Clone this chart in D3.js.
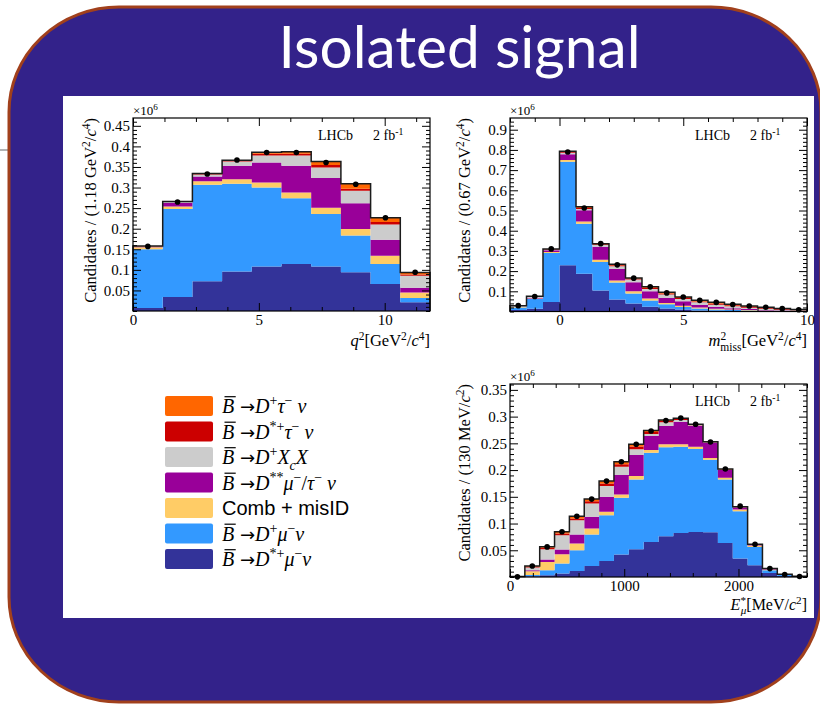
<!DOCTYPE html>
<html><head><meta charset="utf-8">
<script src="https://cdn.jsdelivr.net/npm/d3@7"></script>
<style>body{margin:0;background:#fff}svg{display:block}</style>
</head><body><svg id="c" width="820" height="705"></svg>
<script>
// ---------------- DATA ----------------
// stack order (bottom -> top)
const seriesKeys = ["dstmu","dmu","comb","dss","dxc","dsttau","dtau"];
const seriesColors = ["#333399","#3399ff","#ffcc66","#990099","#cccccc","#cc0000","#ff6600"];

// q^2 panel (units 1e6 candidates)
const q2Edges   = [0,1.18,2.36,3.54,4.72,5.9,7.08,8.26,9.44,10.62,11.8];
const q2DstMu   = [0.007,0.034,0.072,0.096,0.108,0.114,0.108,0.094,0.0655,0.021];
const q2DMu     = [0.143,0.214,0.2345,0.213,0.192,0.160,0.128,0.0895,0.0485,0.0105];
const q2Comb    = [0.005,0.006,0.0085,0.011,0.012,0.014,0.015,0.0155,0.020,0.0135];
const q2Dss     = [0.001,0.009,0.012,0.033,0.049,0.065,0.072,0.063,0.039,0.0115];
const q2DXc     = [0.001,0.002,0.005,0.010,0.017,0.025,0.026,0.030,0.037,0.0292];
const q2DstTau  = [0.0005,0.0005,0.001,0.002,0.004,0.004,0.006,0.005,0.006,0.0033];
const q2DTau    = [0.0005,0.0005,0.001,0.0015,0.004,0.005,0.008,0.012,0.0105,0.0047];
const q2Data    = [0.157,0.265,0.333,0.367,0.385,0.385,0.361,0.308,0.2265,0.094];
const q2YTicks  = [0.05,0.1,0.15,0.2,0.25,0.3,0.35,0.4,0.45];
const q2XTicks  = [0,5,10];

// m^2_miss panel
const m2Edges   = [-2,-1.333,-0.667,0,0.667,1.333,2,2.667,3.333,4,4.667,5.333,6,6.667,7.333,8,8.667,9.333,10];
const m2DstMu   = [0.007,0.014,0.047,0.229,0.1875,0.104,0.060,0.039,0.023,0.0144,0.0094,0.0045,0.004,0.003,0.002,0.0015,0.001,0.0006];
const m2DMu     = [0.013,0.048,0.243,0.513,0.2475,0.141,0.083,0.0496,0.031,0.0213,0.0134,0.0098,0.006,0.004,0.003,0.002,0.001,0.0007];
const m2Comb    = [0.002,0.002,0.005,0.008,0.010,0.011,0.011,0.0114,0.010,0.0069,0.0062,0.005,0.003,0.0024,0.002,0.0015,0.001,0.0007];
const m2Dss     = [0.002,0.004,0.008,0.028,0.056,0.065,0.057,0.0445,0.036,0.0244,0.0215,0.0134,0.0098,0.0066,0.005,0.003,0.002,0.001];
const m2DXc     = [0.003,0.004,0.004,0.008,0.007,0.008,0.013,0.0135,0.012,0.0167,0.0119,0.0128,0.0112,0.0097,0.006,0.005,0.004,0.003];
const m2DstTau  = [0.001,0.0015,0.002,0.004,0.005,0.004,0.005,0.004,0.005,0.0053,0.0046,0.0045,0.006,0.0053,0.005,0.004,0.003,0.002];
const m2DTau    = [0.001,0.0015,0.001,0.003,0.005,0.003,0.005,0.004,0.005,0.006,0.005,0.0055,0.0055,0.0047,0.0047,0.004,0.0024,0.0014];
const m2Data    = [0.029,0.0745,0.310,0.790,0.5125,0.336,0.231,0.165,0.122,0.092,0.0715,0.055,0.045,0.035,0.027,0.021,0.014,0.009];
const m2YTicks  = [0.1,0.2,0.3,0.4,0.5,0.6,0.7,0.8,0.9];
const m2XTicks  = [0,5,10];

// E*_mu panel
const eEdges    = [0,130,260,390,520,650,780,910,1040,1170,1300,1430,1560,1690,1820,1950,2080,2210,2340,2470,2600];
const eDstMu    = [0.0002,0.0013,0.0032,0.0064,0.0113,0.0206,0.030,0.042,0.0519,0.0656,0.0763,0.0825,0.0844,0.0838,0.0638,0.0345,0.022,0.0075,0.002,0.0005];
const eDMu      = [0.0003,0.0025,0.0094,0.0187,0.0387,0.0589,0.0857,0.1061,0.1307,0.1669,0.1663,0.1613,0.155,0.1357,0.1188,0.0887,0.0343,0.0051,0.002,0.0004];
const eComb     = [0.0002,0.0069,0.0156,0.0175,0.0126,0.0112,0.0062,0.0064,0.0062,0.0051,0.0057,0.0045,0.0044,0.003,0.003,0.0031,0.0027,0.0014,0.0004,0.0001];
const eDss      = [0.0001,0.0018,0.0044,0.0088,0.0169,0.0218,0.0281,0.0362,0.0394,0.026,0.0343,0.0423,0.0388,0.0285,0.0144,0.0037,0.001,0.0008,0.0002,0.0001];
const eDXc      = [0.0001,0.0051,0.0194,0.0268,0.0268,0.0251,0.020,0.0156,0.0107,0.004,0.0069,0.0032,0.0014,0.001,0.0008,0.0005,0.0005,0.0004,0.0002,0.0001];
const eDstTau   = [0.0001,0.0016,0.0025,0.0033,0.0032,0.0039,0.005,0.0047,0.0051,0.0035,0.0025,0.0017,0.001,0.0005,0.0005,0.0004,0.0005,0.0003,0.0001,0.0001];
const eDTau     = [0,0.0014,0.0021,0.0031,0.004,0.0042,0.0044,0.0046,0.0043,0.0027,0.0018,0.0015,0.0007,0.0005,0.0006,0.0004,0.0003,0.0002,0.0001,0];
const eData     = [0.0003,0.0206,0.0563,0.0846,0.1135,0.1457,0.1794,0.2156,0.2483,0.2732,0.2925,0.2975,0.2857,0.2526,0.2019,0.1325,0.0613,0.0157,0.0045,0.001];
const eYTicks   = [0.05,0.1,0.15,0.2,0.25,0.3,0.35];
const eXTicks   = [0,1000,2000];

// ---------------- DRAW ----------------
const SERIF = "'Liberation Serif','Times New Roman',serif";
const SANS = "'Liberation Sans',Arial,sans-serif";
const svg = d3.select("#c");

svg.append("rect").attr("width",820).attr("height",705).attr("fill","#fff");
svg.append("line").attr("x1",0).attr("x2",9).attr("y1",150).attr("y2",150)
   .attr("stroke","#9a9a9a").attr("stroke-width",1.5);
svg.append("rect").attr("x",9).attr("y",7).attr("width",812).attr("height",695)
   .attr("rx",110).attr("ry",105).attr("fill","#33228a")
   .attr("stroke","#a1401c").attr("stroke-width",3);
svg.append("text").text("Isolated signal").attr("x",459.5).attr("y",68)
   .attr("text-anchor","middle").attr("fill","#fff")
   .attr("font-family","Lato,'Open Sans',sans-serif").attr("font-size",58)
   .attr("textLength",362).attr("lengthAdjust","spacingAndGlyphs");
svg.append("rect").attr("x",63).attr("y",96).attr("width",751).attr("height",522).attr("fill","#fff");

function rich(t, segs, fs){
  let shift = 0;
  segs.forEach(s=>{
    const target = s.sup ? -0.38*fs : (s.sub ? 0.28*fs : 0);
    const ts = t.append("tspan").text(s.t).attr("dy",(target-shift).toFixed(2));
    shift = target;
    if(s.sup||s.sub) ts.attr("font-size",(0.7*fs).toFixed(1));
    if(s.it) ts.attr("font-style","italic");
    if(s.dx) ts.attr("dx",s.dx);
    if(s.sans) ts.attr("font-family",SANS);
    if(s.arrow) ts.attr("font-family","'DejaVu Sans',sans-serif").attr("font-size",(0.9*fs).toFixed(1));
  });
  return t;
}

function panel(cfg){
  const g = svg.append("g");
  const x = d3.scaleLinear().domain([cfg.edges[0], cfg.edges[cfg.edges.length-1]]).range([cfg.left,cfg.right]);
  const y = d3.scaleLinear().domain([0,cfg.yMax]).range([cfg.bottom,cfg.top]);
  const n = cfg.edges.length-1;
  const rows = d3.range(n).map(i=>{const o={}; seriesKeys.forEach((k,j)=>o[k]=cfg.series[j][i]); return o;});
  const stacked = d3.stack().keys(seriesKeys)(rows);
  const area = d3.area().curve(d3.curveStepAfter).x(d=>x(d.x)).y0(d=>y(d.y0)).y1(d=>y(d.y1));
  stacked.forEach((layer,li)=>{
    const pts = layer.map((d,i)=>({x:cfg.edges[i],y0:d[0],y1:d[1]}));
    pts.push({x:cfg.edges[n],y0:layer[n-1][0],y1:layer[n-1][1]});
    g.append("path").attr("d",area(pts)).attr("fill",seriesColors[li]);
  });
  // total outline
  const top = stacked[stacked.length-1];
  let p = `M${x(cfg.edges[0])},${y(0)}`;
  for(let i=0;i<n;i++){ p += `V${y(top[i][1])}H${x(cfg.edges[i+1])}`; }
  p += `V${y(0)}`;
  g.append("path").attr("d",p).attr("fill","none").attr("stroke","#1b1b1b").attr("stroke-width",1.5);
  // data points
  g.selectAll("circle.pt").data(cfg.data).join("circle")
    .attr("cx",(d,i)=>x((cfg.edges[i]+cfg.edges[i+1])/2)).attr("cy",d=>y(d))
    .attr("r",2.8).attr("fill","#000");

  // axes
  const yMin = d3.range(0,cfg.yMax,cfg.yMinor).filter(v=>!cfg.yTicks.some(t=>Math.abs(t-v)<1e-9));
  const xd = x.domain();
  const xStart = Math.ceil(xd[0]/cfg.xMinor)*cfg.xMinor;
  const xMin = d3.range(xStart,xd[1]+1e-9,cfg.xMinor).filter(v=>!cfg.xTicks.some(t=>Math.abs(t-v)<1e-9));
  const fmt = d=>String(+d.toFixed(3));
  const style = a=>{ a.select(".domain").remove();
    a.attr("font-family",SERIF).attr("font-size",15);
    a.selectAll("text").attr("fill","#000"); a.selectAll("line").attr("stroke","#000"); };
  g.append("g").attr("transform",`translate(${cfg.left},0)`).call(d3.axisLeft(y).tickValues(cfg.yTicks).tickSize(-8).tickPadding(3).tickFormat(fmt)).call(style);
  g.append("g").attr("transform",`translate(${cfg.left},0)`).call(d3.axisLeft(y).tickValues(yMin).tickSize(-4).tickFormat("")).call(style);
  g.append("g").attr("transform",`translate(${cfg.right},0)`).call(d3.axisRight(y).tickValues(cfg.yTicks).tickSize(-8).tickFormat("")).call(style);
  g.append("g").attr("transform",`translate(${cfg.right},0)`).call(d3.axisRight(y).tickValues(yMin).tickSize(-4).tickFormat("")).call(style);
  g.append("g").attr("transform",`translate(0,${cfg.bottom})`).call(d3.axisBottom(x).tickValues(cfg.xTicks).tickSize(-8).tickPadding(3).tickFormat(fmt)).call(style);
  g.append("g").attr("transform",`translate(0,${cfg.bottom})`).call(d3.axisBottom(x).tickValues(xMin).tickSize(-4).tickFormat("")).call(style);
  g.append("g").attr("transform",`translate(0,${cfg.top})`).call(d3.axisTop(x).tickValues(cfg.xTicks).tickSize(-8).tickFormat("")).call(style);
  g.append("g").attr("transform",`translate(0,${cfg.top})`).call(d3.axisTop(x).tickValues(xMin).tickSize(-4).tickFormat("")).call(style);
  g.append("rect").attr("x",cfg.left).attr("y",cfg.top).attr("width",cfg.right-cfg.left).attr("height",cfg.bottom-cfg.top)
    .attr("fill","none").attr("stroke","#000").attr("stroke-width",1.2);

  // x10^6
  rich(g.append("text").attr("x",cfg.left).attr("y",cfg.top-3).attr("font-family",SERIF).attr("font-size",13),
       [{t:"×10"},{t:"6",sup:1}],13);
  // LHCb label
  g.append("text").attr("x",cfg.right-112).attr("y",cfg.top+22).attr("font-family",SERIF).attr("font-size",14).text("LHCb");
  rich(g.append("text").attr("x",cfg.right-57).attr("y",cfg.top+22).attr("font-family",SERIF).attr("font-size",14),
       [{t:"2 fb"},{t:"-1",sup:1}],14);
  // y title
  const yt = g.append("text").attr("transform",`translate(${cfg.yTitleX},${cfg.top}) rotate(-90)`)
     .attr("text-anchor","end").attr("font-family",SERIF).attr("font-size",16.5);
  rich(yt,cfg.yTitle,16.5);
  // x title
  const xt = g.append("text").attr("x",cfg.right).attr("y",cfg.xTitleY)
     .attr("text-anchor","end").attr("font-family",SERIF).attr("font-size",cfg.xTitleSize);
  rich(xt,cfg.xTitle,cfg.xTitleSize);
}

panel({edges:q2Edges, series:[q2DstMu,q2DMu,q2Comb,q2Dss,q2DXc,q2DstTau,q2DTau], data:q2Data,
  left:133,right:430,top:118,bottom:311,yMax:0.469,yTicks:q2YTicks,yMinor:0.01,xTicks:q2XTicks,xMinor:1.25,
  yTitleX:96, xTitleY:346, xTitleSize:16.5,
  yTitle:[{t:"Candidates / (1.18 GeV"},{t:"2",sup:1},{t:"/"},{t:"c",it:1},{t:"4",sup:1},{t:")"}],
  xTitle:[{t:"q",it:1},{t:"2",sup:1},{t:"[GeV"},{t:"2",sup:1},{t:"/"},{t:"c",it:1},{t:"4",sup:1},{t:"]"}]});

panel({edges:m2Edges, series:[m2DstMu,m2DMu,m2Comb,m2Dss,m2DXc,m2DstTau,m2DTau], data:m2Data,
  left:510,right:807,top:118,bottom:311.5,yMax:0.958,yTicks:m2YTicks,yMinor:0.02,xTicks:m2XTicks,xMinor:1,
  yTitleX:470, xTitleY:346, xTitleSize:16.5,
  yTitle:[{t:"Candidates / (0.67 GeV"},{t:"2",sup:1},{t:"/"},{t:"c",it:1},{t:"4",sup:1},{t:")"}],
  xTitle:[{t:"m",it:1},{t:"2",sup:1},{t:"miss",sub:1,dx:-5.8},{t:"[GeV"},{t:"2",sup:1},{t:"/"},{t:"c",it:1},{t:"4",sup:1},{t:"]"}]});

panel({edges:eEdges, series:[eDstMu,eDMu,eComb,eDss,eDXc,eDstTau,eDTau], data:eData,
  left:510,right:807,top:384,bottom:577,yMax:0.361,yTicks:eYTicks,yMinor:0.01,xTicks:eXTicks,xMinor:200,
  yTitleX:470, xTitleY:610, xTitleSize:16,
  yTitle:[{t:"Candidates / (130 MeV/"},{t:"c",it:1},{t:"2",sup:1},{t:")"}],
  xTitle:[{t:"E",it:1},{t:"*",sup:1},{t:"μ",sub:1,it:1,dx:-5.3},{t:"[MeV/"},{t:"c",it:1},{t:"2",sup:1},{t:"]"}]});

// ---------------- LEGEND ----------------
const B = {t:"B",it:1,bar:1}, AR = {t:" \u2192",arrow:1}, Dd = {t:"D",it:1};
const legendOrder = [6,5,4,3,2,1,0]; // indices into seriesKeys (top -> bottom)
const legendLabels = [
  [B,AR,Dd,{t:"+",sup:1},{t:"τ",it:1},{t:"−",sup:1},{t:" ν",it:1}],
  [B,AR,Dd,{t:"*+",sup:1},{t:"τ",it:1},{t:"−",sup:1},{t:" ν",it:1}],
  [B,AR,Dd,{t:"+",sup:1},{t:"X",it:1},{t:"c",sub:1,it:1},{t:"X",it:1}],
  [B,AR,Dd,{t:"**",sup:1},{t:"μ",it:1},{t:"−",sup:1},{t:"/"},{t:"τ",it:1},{t:"−",sup:1},{t:" ν",it:1}],
  [{t:"Comb + misID",sans:1}],
  [B,AR,Dd,{t:"+",sup:1},{t:"μ",it:1},{t:"−",sup:1},{t:"ν",it:1}],
  [B,AR,Dd,{t:"*+",sup:1},{t:"μ",it:1},{t:"−",sup:1},{t:"ν",it:1}]
];
const lg = svg.append("g");
legendOrder.forEach((si,r)=>{
  const y0 = 396 + r*25.5;
  lg.append("rect").attr("x",165).attr("y",y0).attr("width",48).attr("height",20).attr("rx",2)
    .attr("fill",seriesColors[si]);
  const fs = 20;
  const t = lg.append("text").attr("x",222).attr("y",y0+17).attr("font-family",SERIF).attr("font-size",fs);
  rich(t,legendLabels[r],fs);
  if(legendLabels[r][0].bar){
    const ext = t.node().getExtentOfChar(0);
    lg.append("line").attr("x1",ext.x+2.5).attr("x2",ext.x+ext.width+1.5)
      .attr("y1",y0+17-0.74*fs-1.5).attr("y2",y0+17-0.74*fs-1.5)
      .attr("stroke","#000").attr("stroke-width",1.2);
  }
});
</script></body></html>
